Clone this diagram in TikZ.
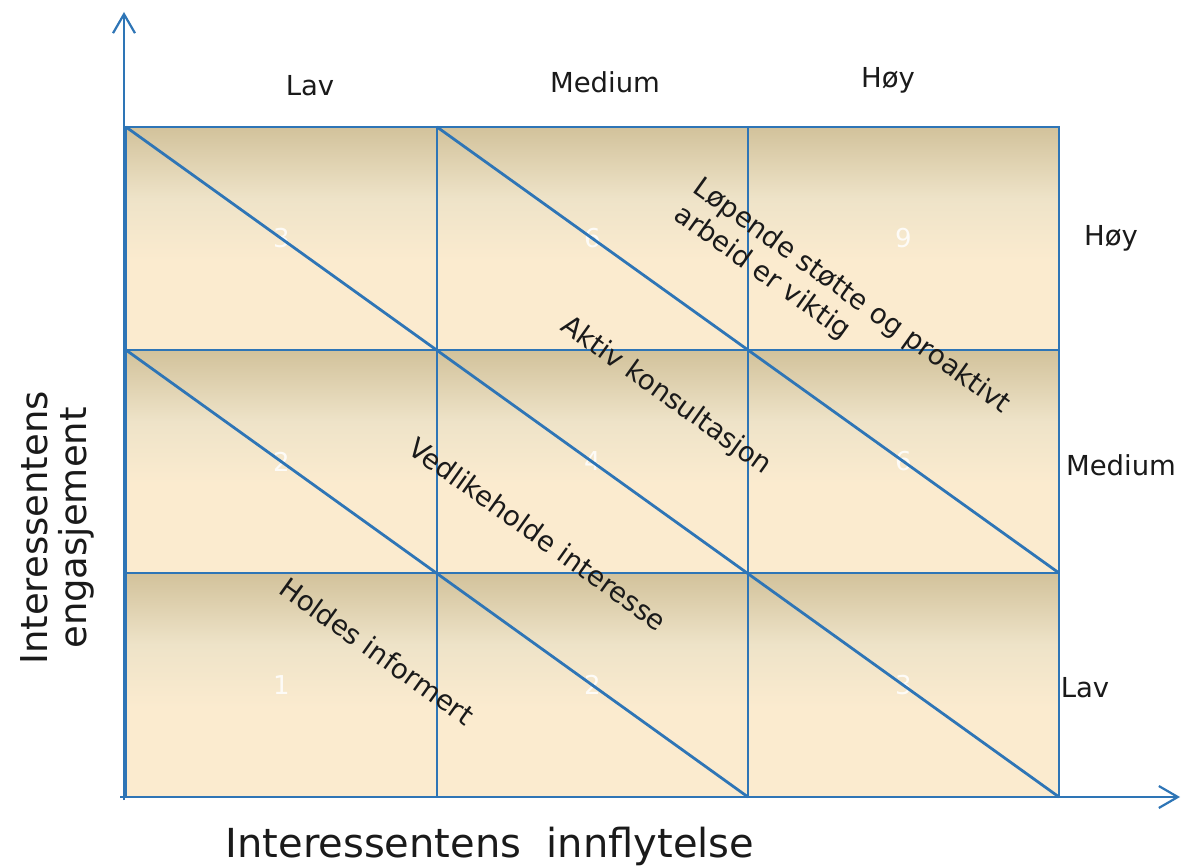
\documentclass[tikz,border=0pt]{standalone}
\usepackage{fontspec}
\setmainfont{DejaVu Sans}
\usetikzlibrary{arrows.meta}
\definecolor{gridblue}{HTML}{2E75B6}
\definecolor{ctop}{HTML}{D2C29B}
\definecolor{cmid}{HTML}{EEE3C8}
\definecolor{cbot}{HTML}{FBEBCF}
\definecolor{txt}{HTML}{1A1A1A}
\pgfdeclareverticalshading{cellshade}{100bp}{color(0bp)=(cbot); color(45bp)=(cbot); color(59bp)=(cmid); color(75bp)=(ctop); color(100bp)=(ctop)}
\begin{document}
\begin{tikzpicture}[x=1pt,y=-1pt,
  cell/.style={draw=gridblue, line width=1.8pt, shading=cellshade, anchor=north west,
    minimum width=311pt, minimum height=223pt, inner sep=0pt, outer sep=0pt,
    text=white, text opacity=0.85, font=\fontsize{26}{30}\selectfont},
  diag/.style={draw=gridblue, line width=2.8pt},
  axis/.style={draw=gridblue, line width=2.2pt, -{Straight Barb[length=19pt,width=22pt,line width=2.2pt]}},
  lbl/.style={text=txt, font=\fontsize{27.5}{31}\selectfont, inner sep=0pt},
  dlbl/.style={text=txt, font=\fontsize{27.5}{33}\selectfont, inner sep=0pt, rotate=-35.6},
  title/.style={text=txt, inner sep=0pt, align=center}]
\useasboundingbox (0,0) rectangle (1184,866);
\fill[white] (0,0) rectangle (1184,866);
% cells
\node[cell] (c13) at (126,127) {3};
\node[cell] (c23) at (437,127) {6};
\node[cell] (c33) at (748,127) {9};
\node[cell] (c12) at (126,350) {2};
\node[cell] (c22) at (437,350) {4};
\node[cell] (c32) at (748,350) {6};
\node[cell, minimum height=224pt] (c11) at (126,573) {1};
\node[cell, minimum height=224pt] (c21) at (437,573) {2};
\node[cell, minimum height=224pt] (c31) at (748,573) {3};
% diagonals
\draw[diag] (c13.north west) -- (c31.south east);
\draw[diag] (c23.north west) -- (c32.south east);
\draw[diag] (c12.north west) -- (c21.south east);
% axes
\coordinate (yo) at (124,800);
\coordinate (ytip) at (124,12);
\coordinate (xo) at (120,797);
\coordinate (xtip) at (1180,797);
\draw[axis] (yo) -- (ytip);
\draw[axis] (xo) -- (xtip);
% column labels
\node[lbl] (colL) at (310,86) {Lav};
\node[lbl] (colM) at (605,82) {Medium};
\node[lbl] (colH) at (888,80) {Høy};
% row labels
\node[lbl] (rowH) at (1111,238) {Høy};
\node[lbl] (rowM) at (1121,465) {Medium};
\node[lbl] (rowL) at (1085,688) {Lav};
% diagonal labels
\node[dlbl, align=left] (lopende) at (842,310) {Løpende støtte og proaktivt\\arbeid er viktig};
\node[dlbl] (aktiv) at (666,396) {Aktiv konsultasjon};
\node[dlbl] (vedl) at (538,534) {Vedlikeholde interesse};
\node[dlbl] (holdes) at (377,651) {Holdes informert};
% titles
\node[title, font=\fontsize{40}{46}\selectfont] (xtitle) at (490,846) {Interessentens\ \ innflytelse};
\node[title, font=\fontsize{37}{39}\selectfont, rotate=90] (ytitle) at (57,528) {Interessentens\\engasjement};
\end{tikzpicture}
\end{document}
